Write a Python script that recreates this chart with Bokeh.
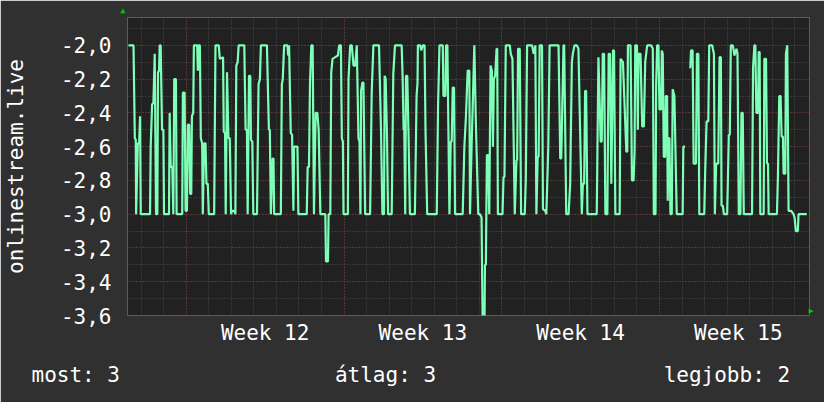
from bokeh.plotting import figure
from bokeh.models import Range1d, FixedTicker, Grid, Title, CustomJSTickFormatter
from bokeh.embed import file_html
from bokeh.resources import INLINE

NAN = float("nan")

# time in hours since the left edge of the graph, value of onlinestream.live
hours = [
    1.1, 6.4, 7.8, 8.8, 9.2, 11.0, 12.4, 13.4, 14.1, 24.0, 24.7, 26.2, 27.6, 29.0, 30.4, 31.8,
    32.5, 33.6, 34.3, 35.3, 36.8, 38.2, 38.9, 44.2, 44.9, 46.0, 47.7, 48.8, 49.8, 51.6, 52.3, 58.3,
    59.0, 60.8, 61.9, 63.3, 64.3, 65.7, 66.8, 67.9, 68.6, 70.0, 70.7, 74.2, 74.9, 75.6, 77.1, 78.1,
    79.5, 80.2, 81.6, 83.1, 84.1, 85.5, 86.6, 92.3, 93.7, 97.2, 98.3, 101.8, 102.5, 103.9, 104.6, 106.0,
    107.5, 108.9, 110.3, 111.3, 113.8, 114.9, 115.9, 117.3, 118.4, 124.4, 125.8, 127.2, 128.0, 129.4, 130.8, 131.5,
    132.9, 134.0, 137.9, 139.6, 141.0, 142.1, 148.5, 150.6, 151.6, 152.7, 154.5, 155.5, 156.2, 163.3, 164.4, 165.4,
    166.8, 170.4, 171.1, 172.1, 173.9, 175.3, 176.7, 177.4, 181.0, 182.0, 190.9, 191.9, 193.3, 194.4, 195.8, 197.2,
    198.6, 200.4, 202.2, 203.6, 205.4, 210.7, 211.4, 213.5, 214.2, 216.0, 217.0, 218.4, 221.3, 224.1, 225.5, 227.3,
    228.3, 229.4, 230.1, 234.7, 235.4, 237.2, 238.9, 240.7, 242.5, 244.2, 246.0, 247.1, 248.1, 248.8, 250.2, 251.3,
    253.1, 258.4, 260.1, 261.9, 267.9, 270.0, 271.5, 273.2, 273.9, 275.0, 276.4, 277.5, 281.4, 283.1, 284.9, 292.0,
    293.0, 294.1, 294.8, 295.8, 296.6, 298.0, 299.4, 300.8, 306.1, 307.9, 308.9, 309.3, 311.8, 312.8, 314.6, 316.4,
    317.4, 319.2, 329.4, 330.8, 332.3, 335.8, 336.5, 338.6, 339.3, 340.7, 342.9, 344.3, 345.3, 346.4, 347.8, 348.9,
    357.0, 358.8, 360.5, 362.3, 364.1, 364.8, 366.5, 369.4, 371.1, 373.6, 375.4, 377.1, 378.2, 380.3, 380.7, 381.7,
    382.8, 384.2, 385.3, 386.7, 388.1, 389.2, 390.2, 391.6, 393.1, 393.8, 394.5, 399.4, 400.5, 401.5, 402.9, 407.2,
    408.2, 410.0, 412.5, 414.3, 415.0, 416.0, 417.8, 419.2, 423.1, 424.2, 425.6, 430.9, 432.6, 434.4, 435.5, 436.9,
    437.9, 439.0, 441.5, 442.5, 445.0, 446.1, 448.2, 449.6, 459.1, 460.9, 462.0, 464.4, 465.1, 467.3, 469.8, 471.5,
    473.3, 474.3, 476.1, 478.6, 480.3, 483.9, 485.0, 486.4, 487.4, 488.5, 489.9, 499.8, 501.6, 504.0, 505.1, 506.2,
    507.6, 509.0, 511.1, 512.5, 513.9, 515.3, 517.1, 518.2, 519.6, 524.2, 525.2, 527.7, 531.3, 532.3, 533.0, 535.8,
    537.3, 539.0, 540.1, 540.8, 542.6, 543.6, 544.3, 546.4, 548.2, 550.0, 551.4, 553.5, 557.8, 559.5, 560.6, 562.4,
    563.1, 564.1, 565.5, 566.6, 568.4, 569.1, 570.1, 571.2, 572.6, 573.3, 574.7, 575.4, 576.1, 577.2, 578.3, 579.7,
    580.7, 582.5, 585.0, 591.3, 592.0, 593.8, 597.0, 598.4, 599.5, 600.2, 601.9, 603.0, 605.5, 606.5, 608.0, 609.0,
    614.3, 615.4, 616.8, 618.6, 619.6, 622.8, 623.5, 624.6, 625.6, 627.0, 629.2, 630.6, 632.0, 632.7, 634.1, 635.2,
    638.7, 640.5, 641.5, 642.6, 644.7, 646.5, 648.6, 649.7, 651.1, 652.8, 653.9, 655.3, 656.4, 665.2, 666.3, 667.7,
    668.7, 669.8, 671.6, 672.3, 673.3, 674.0, 677.6, 678.3, 680.1, 681.1, 682.2, 682.9, 691.7, 692.8, 694.2, 695.6,
    696.7, 698.1, 698.8, 700.6, 701.3, 702.7, 704.1, 706.9, 709.4, 710.5, 711.9, 714.0, 714.7, 723.5,
]
values = [
    -2.0, -2.0, -2.55, -2.56, -3.0, -2.58, -2.58, -2.42, -3.0, -3.0, -2.6, -2.35, -2.34, -2.05, -3.0, -3.0,
    -2.16, -2.15, -2.0, -2.0, -2.5, -2.5, -3.0, -3.0, -2.4, -2.72, -2.72, -3.0, -2.2, -2.2, -3.0, -3.0,
    -2.28, -2.28, -2.98, -2.98, -2.47, -2.47, -2.88, -2.88, -2.42, -2.4, -2.0, -2.0, -2.15, -2.0, -2.0, -2.55,
    -2.58, -3.0, -2.58, -2.58, -2.82, -2.82, -3.0, -3.0, -2.0, -2.0, -2.08, -2.07, -2.51, -2.52, -3.0, -2.16,
    -2.55, -2.55, -3.0, -2.98, -2.98, -3.0, -2.12, -2.1, -2.0, -2.0, -2.5, -2.5, -3.0, -2.18, -2.18, -2.56,
    -2.57, -3.0, -3.0, -2.23, -2.2, -2.0, -2.0, -2.5, -2.5, -3.0, -2.67, -2.67, -3.0, -3.0, -2.23, -2.2,
    -2.0, -2.0, -2.06, -2.0, -2.52, -2.53, -2.98, -2.6, -2.6, -3.0, -3.0, -2.72, -2.72, -2.22, -2.0, -2.0,
    -3.0, -2.4, -2.4, -2.5, -3.0, -3.0, -3.28, -3.28, -3.0, -3.0, -2.16, -2.08, -2.07, -2.06, -2.0, -2.0,
    -2.55, -2.57, -3.0, -3.0, -2.2, -2.0, -2.0, -2.12, -2.12, -2.0, -2.55, -2.57, -3.0, -2.27, -2.22, -2.22,
    -3.0, -3.0, -2.28, -2.0, -2.0, -2.5, -3.0, -3.0, -2.18, -2.2, -2.54, -3.0, -3.0, -2.17, -2.0, -2.0,
    -2.18, -2.5, -2.5, -3.0, -2.18, -2.18, -2.55, -3.0, -3.0, -2.3, -2.22, -2.0, -2.0, -2.03, -2.0, -2.0,
    -2.5, -3.0, -3.0, -2.35, -2.0, -2.0, -2.3, -2.3, -2.0, -2.0, -3.0, -2.57, -2.57, -2.25, -2.25, -3.0,
    -3.0, -2.6, -2.42, -2.15, -2.15, -3.0, -2.6, -2.0, -2.47, -3.0, -3.0, -3.02, -3.6, -3.6, -3.3, -3.3,
    -2.65, -2.65, -3.0, -2.12, -2.15, -2.6, -2.2, -2.18, -2.02, -2.02, -3.0, -3.0, -2.78, -2.78, -2.0, -2.0,
    -2.05, -2.08, -3.0, -2.68, -2.68, -2.02, -2.02, -3.0, -3.0, -2.8, -2.0, -2.0, -2.05, -2.0, -3.0, -2.66,
    -2.66, -2.0, -2.0, -2.97, -2.98, -3.0, -2.6, -2.0, -2.0, -2.67, -2.67, -2.0, -2.0, -3.0, -3.0, -2.82,
    -2.1, -2.05, -2.0, -2.0, -2.02, -3.0, -2.82, -2.82, -2.27, -2.27, -3.0, -3.0, -2.07, -2.57, -2.57, -2.05,
    -2.05, -3.0, -3.0, -2.05, -2.05, -2.82, -2.03, -2.03, -3.0, -3.0, -2.08, -2.1, -2.63, -2.63, -2.0, -2.0,
    -2.8, -2.8, -2.62, -2.0, -2.0, -2.5, -2.05, -2.05, -2.48, -2.48, -2.1, -2.0, -2.0, -2.02, -3.0, -3.0,
    -2.23, -2.0, -2.0, -2.38, -2.38, -2.03, -2.05, -2.66, -2.66, -2.3, -2.3, -2.92, -2.55, -2.55, -3.0, -3.0,
    -2.26, -2.3, -3.0, -3.0, -2.6, -2.6, NAN, -2.13, -2.13, -2.03, -2.03, -2.7, -2.7, -2.05, -2.05, -3.0,
    -3.0, -2.72, -2.45, -2.45, -2.0, -2.0, -2.02, -2.05, -3.0, -2.7, -2.7, -2.07, -2.07, -2.95, -2.95, -3.0,
    -3.0, -2.53, -2.53, -2.0, -2.0, -2.06, -2.02, -2.05, -3.0, -3.0, -2.4, -2.4, -3.0, -3.0, -2.13, -2.0,
    -2.0, -2.4, -2.4, -2.04, -2.04, -3.0, -3.0, -2.08, -2.08, -2.7, -2.7, -3.0, -3.0, -2.77, -2.3, -2.3,
    -2.54, -2.54, -2.76, -2.76, -2.05, -2.0, -2.98, -2.98, -3.0, -3.02, -3.1, -3.1, -3.0, -3.0,
]

series_label = "onlinestream.live"
week_labels = ["Week 12", "Week 13", "Week 14", "Week 15"]
week_starts = [62.6, 230.6, 398.6, 566.6]          # hours since left edge (Monday 00:00)
x_end = 726.4
y_min, y_max = -3.6, -1.835
y_ticks = [-3.6, -3.4, -3.2, -3.0, -2.8, -2.6, -2.4, -2.2, -2.0]
y_minor = [-3.5, -3.3, -3.1, -2.9, -2.7, -2.5, -2.3, -2.1, -1.9]
summary_labels = ["most", "átlag", "legjobb"]
summary_values = [3, 3, 2]

FONT = "DejaVu Sans Mono"
FS = "21px"
BG = "#303030"
PLOT_BG = "#212121"
LINE = "#7dffb8"

day_ticks = [week_starts[0] - 48 + 24 * i for i in range(31) if week_starts[0] - 48 + 24 * i < x_end]
week_centers = [w + 84 for w in week_starts]

p = figure(width=824, height=402, output_backend="svg", toolbar_location=None,
           x_range=Range1d(0, x_end), y_range=Range1d(y_min, y_max),
           min_border_left=124, min_border_right=15, min_border_top=15, min_border_bottom=87,
           background_fill_color=PLOT_BG, border_fill_color=BG, outline_line_color=None)

p.xgrid.visible = False
p.ygrid.visible = False

for ticks, dim, col in [(day_ticks, 0, "#4e4e4e"), (y_minor + y_ticks, 1, "#4e4e4e"),
                        (week_starts, 0, "#7a3636"), (y_ticks, 1, "#7a3636")]:
    g = Grid(dimension=dim, ticker=FixedTicker(ticks=ticks),
             grid_line_color=col, grid_line_dash="1 2", grid_line_width=1)
    p.add_layout(g)

p.line(hours, values, line_color=LINE, line_width=2.2)

# axes
p.xaxis.ticker = FixedTicker(ticks=week_centers)
p.xaxis.major_label_overrides = {c: l for c, l in zip(week_centers, week_labels)}
p.yaxis.ticker = FixedTicker(ticks=y_ticks)
p.yaxis.formatter = CustomJSTickFormatter(code="return tick.toFixed(1).replace('.', ',');")
for ax in (p.xaxis[0], p.yaxis[0]):
    ax.axis_line_color = None
    ax.major_tick_line_color = None
    ax.minor_tick_line_color = None
    ax.major_tick_out = 0
    ax.major_tick_in = 0
    ax.minor_tick_out = 0
    ax.minor_tick_in = 0
    ax.major_label_text_color = "white"
    ax.major_label_text_font = FONT
    ax.major_label_text_font_size = FS
p.xaxis.major_label_standoff = 5
p.yaxis.major_label_standoff = 16

p.yaxis.axis_label = series_label
p.yaxis.axis_label_text_font = FONT
p.yaxis.axis_label_text_font_size = FS
p.yaxis.axis_label_text_font_style = "normal"
p.yaxis.axis_label_text_color = "white"
p.yaxis.axis_label_standoff = 30

# summary line below the graph (monospace, aligned with non-breaking spaces)
NB = "\u00a0"
summary = (f"{summary_labels[0]}: {summary_values[0]}" + NB * 17 +
           f"{summary_labels[1]}: {summary_values[1]}" + NB * 18 +
           f"{summary_labels[2]}: {summary_values[2]}")
p.add_layout(Title(text=summary, align="left", offset=-96, standoff=26,
                   text_font=FONT, text_font_size=FS, text_font_style="normal",
                   text_color="white"), "below")

# axis arrows
p.add_layout(Title(text="▲", align="left", offset=-7, standoff=6, vertical_align="bottom",
                   text_font=FONT, text_font_size="8px", text_font_style="normal",
                   text_color="#00cc00"), "above")
p.add_layout(Title(text="▲", align="right", offset=2, standoff=-5,
                   text_font=FONT, text_font_size="8px", text_font_style="normal",
                   text_color="#00cc00"), "right")

open("out.html", "w").write(file_html(p, INLINE, "onlinestream.live"))
